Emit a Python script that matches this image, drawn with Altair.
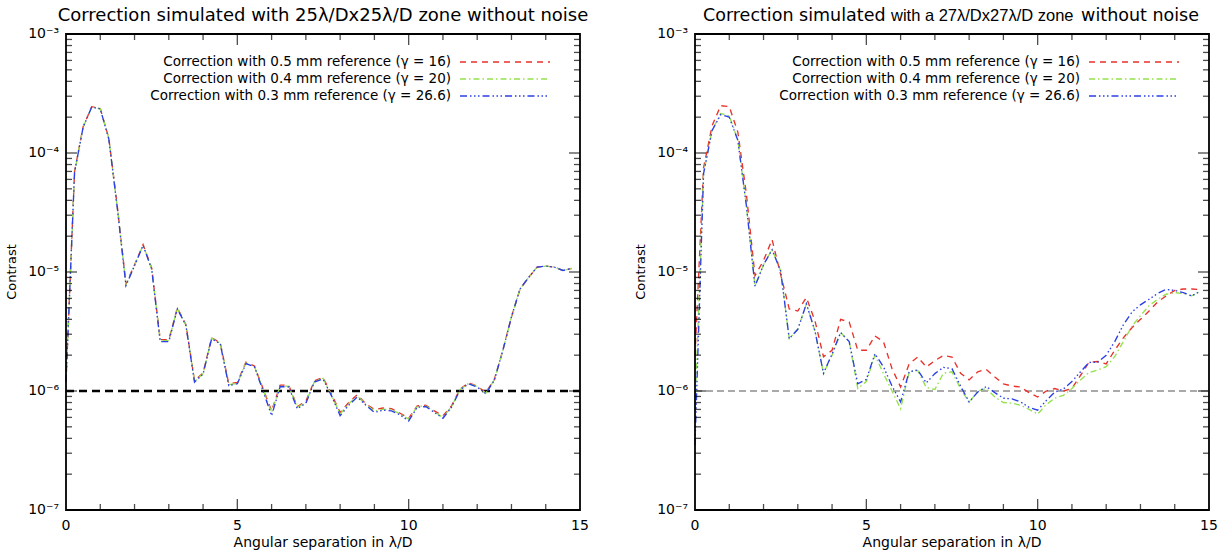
import altair as alt
import pandas as pd

# ---------------- data ----------------
x_sep = [i * 0.25 for i in range(60)]  # angular separation grid (lambda/D)

left_red = [1.2e-6, 7.0e-5, 1.66e-4, 2.45e-4, 2.36e-4, 1.33e-4, 3.5e-5, 7.9e-6, 1.15e-5, 1.7e-5,
            1.08e-5, 2.7e-6, 2.7e-6, 5.0e-6, 3.6e-6, 1.22e-6, 1.42e-6, 2.8e-6, 2.55e-6, 1.15e-6,
            1.18e-6, 1.75e-6, 1.62e-6, 1.05e-6, 6.8e-7, 1.12e-6, 1.12e-6, 7.4e-7, 8.2e-7, 1.22e-6,
            1.3e-6, 9.4e-7, 6.6e-7, 8.0e-7, 9.3e-7, 7.8e-7, 7.0e-7, 7.2e-7, 7.1e-7, 6.5e-7,
            5.9e-7, 7.5e-7, 7.6e-7, 6.8e-7, 6.2e-7, 7.5e-7, 1.04e-6, 1.17e-6, 1.1e-6, 9.7e-7,
            1.25e-6, 2.2e-6, 4.2e-6, 7.2e-6, 9.0e-6, 1.1e-5, 1.12e-5, 1.1e-5, 1.03e-5, 1.07e-5]
left_green = [1.2e-6, 6.9e-5, 1.65e-4, 2.44e-4, 2.35e-4, 1.32e-4, 3.45e-5, 7.8e-6, 1.14e-5, 1.68e-5,
              1.07e-5, 2.65e-6, 2.65e-6, 4.95e-6, 3.58e-6, 1.2e-6, 1.4e-6, 2.78e-6, 2.52e-6, 1.13e-6,
              1.16e-6, 1.72e-6, 1.61e-6, 1.03e-6, 6.6e-7, 1.1e-6, 1.1e-6, 7.3e-7, 8.0e-7, 1.2e-6,
              1.28e-6, 9.2e-7, 6.4e-7, 7.8e-7, 9.1e-7, 7.7e-7, 6.8e-7, 7.0e-7, 7.0e-7, 6.4e-7,
              5.8e-7, 7.4e-7, 7.5e-7, 6.7e-7, 6.0e-7, 7.4e-7, 1.03e-6, 1.16e-6, 1.09e-6, 9.6e-7,
              1.24e-6, 2.2e-6, 4.2e-6, 7.2e-6, 9.0e-6, 1.1e-5, 1.12e-5, 1.1e-5, 1.03e-5, 1.07e-5]
left_blue = [1.2e-6, 6.9e-5, 1.65e-4, 2.43e-4, 2.35e-4, 1.31e-4, 3.4e-5, 7.7e-6, 1.13e-5, 1.67e-5,
             1.06e-5, 2.6e-6, 2.6e-6, 4.9e-6, 3.55e-6, 1.19e-6, 1.39e-6, 2.75e-6, 2.5e-6, 1.11e-6,
             1.15e-6, 1.7e-6, 1.6e-6, 1.0e-6, 6.2e-7, 1.09e-6, 1.08e-6, 7.1e-7, 7.9e-7, 1.19e-6,
             1.26e-6, 9.1e-7, 6.2e-7, 7.6e-7, 8.9e-7, 7.6e-7, 6.6e-7, 6.9e-7, 6.8e-7, 6.3e-7,
             5.6e-7, 7.3e-7, 7.4e-7, 6.6e-7, 5.9e-7, 7.3e-7, 1.02e-6, 1.15e-6, 1.08e-6, 9.5e-7,
             1.23e-6, 2.2e-6, 4.2e-6, 7.2e-6, 9.0e-6, 1.1e-5, 1.12e-5, 1.1e-5, 1.03e-5, 1.07e-5]

right_red = [2.0e-6, 7.5e-5, 1.7e-4, 2.5e-4, 2.45e-4, 1.5e-4, 4.5e-5, 9.3e-6, 1.25e-5, 1.87e-5,
             9.5e-6, 4.9e-6, 4.7e-6, 6.1e-6, 3.9e-6, 1.94e-6, 2.2e-6, 4.0e-6, 3.8e-6, 2.2e-6,
             2.2e-6, 2.9e-6, 2.6e-6, 1.54e-6, 1.08e-6, 1.69e-6, 1.93e-6, 1.59e-6, 1.8e-6, 1.99e-6,
             1.93e-6, 1.41e-6, 1.24e-6, 1.45e-6, 1.52e-6, 1.31e-6, 1.15e-6, 1.1e-6, 1.08e-6, 9.7e-7,
             8.9e-7, 1.0e-6, 1.05e-6, 1.0e-6, 1.05e-6, 1.35e-6, 1.75e-6, 1.77e-6, 1.69e-6, 2.2e-6,
             2.8e-6, 3.4e-6, 4.0e-6, 4.7e-6, 5.6e-6, 6.3e-6, 7.0e-6, 7.2e-6, 7.2e-6, 7.1e-6]
right_green = [7.0e-7, 6.8e-5, 1.56e-4, 2.15e-4, 2.05e-4, 1.29e-4, 3.6e-5, 7.6e-6, 1.15e-5, 1.55e-5,
               1.02e-5, 2.75e-6, 3.3e-6, 5.4e-6, 3.2e-6, 1.4e-6, 2.0e-6, 3.1e-6, 2.6e-6, 1.05e-6,
               1.2e-6, 2.0e-6, 1.4e-6, 1.0e-6, 7.1e-7, 1.45e-6, 1.49e-6, 1.07e-6, 1.03e-6, 1.41e-6,
               1.45e-6, 1.05e-6, 8.0e-7, 1.0e-6, 1.05e-6, 8.9e-7, 8.0e-7, 7.9e-7, 7.6e-7, 7.0e-7,
               6.4e-7, 7.7e-7, 8.7e-7, 9.2e-7, 1.05e-6, 1.24e-6, 1.43e-6, 1.5e-6, 1.6e-6, 1.95e-6,
               2.6e-6, 3.5e-6, 4.3e-6, 5.2e-6, 5.9e-6, 6.5e-6, 6.7e-6, 6.6e-6, 6.3e-6, 6.9e-6]
right_blue = [3.5e-7, 6.7e-5, 1.55e-4, 2.1e-4, 2.0e-4, 1.28e-4, 3.6e-5, 7.6e-6, 1.15e-5, 1.54e-5,
              1.02e-5, 2.75e-6, 3.3e-6, 5.4e-6, 3.2e-6, 1.41e-6, 2.05e-6, 3.1e-6, 2.6e-6, 1.15e-6,
              1.25e-6, 2.05e-6, 1.6e-6, 1.1e-6, 8.1e-7, 1.45e-6, 1.5e-6, 1.17e-6, 1.4e-6, 1.58e-6,
              1.54e-6, 1.1e-6, 8.1e-7, 9.8e-7, 1.09e-6, 9.7e-7, 8.7e-7, 8.6e-7, 8.1e-7, 7.3e-7,
              6.9e-7, 8.3e-7, 9.8e-7, 1.04e-6, 1.2e-6, 1.45e-6, 1.74e-6, 1.74e-6, 2.0e-6, 2.6e-6,
              3.6e-6, 4.6e-6, 5.3e-6, 5.9e-6, 6.6e-6, 7.15e-6, 7.0e-6, 6.7e-6, 6.3e-6, 6.9e-6]

legend_labels = ["Correction with 0.5 mm reference (\u03b3 = 16)",
                 "Correction with 0.4 mm reference (\u03b3 = 20)",
                 "Correction with 0.3 mm reference (\u03b3 = 26.6)"]
left_title = "Correction simulated with 25\u03bb/Dx25\u03bb/D zone without noise"
right_title_parts = ["Correction simulated", "with a 27\u03bb/Dx27\u03bb/D zone", "without noise"]
x_title = "Angular separation in \u03bb/D"
y_title = "Contrast"
x_label_values = [0, 5, 10, 15]
x_major_ticks = [5, 10]
x_minor_ticks = [1, 2, 3, 4, 6, 7, 8, 9, 11, 12, 13, 14]
y_label_values = [1e-7, 1e-6, 1e-5, 1e-4, 1e-3]
y_tick_labels = ["10\u207b\u2077", "10\u207b\u2076", "10\u207b\u2075", "10\u207b\u2074", "10\u207b\u00b3"]
y_major_ticks = [1e-6, 1e-5, 1e-4]
y_minor_ticks = [k * 10.0 ** d for d in range(-7, -3) for k in range(2, 10)]
ref_level = 1e-6

# ---------------- layout / style ----------------
TOTAL_W, TOTAL_H = 1221, 554
TOP, BOTTOM = 34, 510
PANELS = [(66, 580), (695, 1209)]
FONT = "DejaVu Sans"
series_style = [
    ("#e8322b", [6, 5]),
    ("#93e14c", [6, 3, 1.5, 3]),
    ("#2b3fe6", [7, 3, 1.5, 2.5, 1.5, 2.5, 1.5, 3]),
]
y_scale = alt.Scale(type="log", domain=[1e-7, 1e-3], range=[BOTTOM, TOP], nice=False)


def yenc(field):
    return alt.Y(field, type="quantitative", scale=y_scale, axis=None)


def panel_layers(x0, x1, series, ref_width, ref_color, ref_dash):
    xsc = alt.Scale(domain=[0, 15], range=[x0, x1], nice=False, zero=False)

    def xenc(field):
        return alt.X(field, type="quantitative", scale=xsc, axis=None)

    layers = []
    ref = pd.DataFrame({"a": [0], "b": [15], "y": [ref_level]})
    layers.append(alt.Chart(ref).mark_rule(color=ref_color, strokeWidth=ref_width,
                                           strokeDash=ref_dash)
                  .encode(x=xenc("a"), x2="b:Q", y=yenc("y")))
    for vals, (color, dash) in zip(series, series_style):
        df = pd.DataFrame({"x": x_sep, "y": vals})
        layers.append(alt.Chart(df).mark_line(color=color, strokeDash=dash, strokeWidth=1.35)
                      .encode(x=xenc("x"), y=yenc("y")))
    frame = pd.DataFrame({"a": [0], "b": [15], "lo": [1e-7], "hi": [1e-3]})
    layers.append(alt.Chart(frame).mark_rect(stroke="black", strokeWidth=1.8, fillOpacity=0)
                  .encode(x=xenc("a"), x2="b:Q", y=yenc("lo"), y2="hi:Q"))
    # inward ticks
    for vals, ln in ((x_minor_ticks, 6), (x_major_ticks, 11)):
        df = pd.DataFrame({"x": vals})
        for ypos in (BOTTOM - ln / 2, TOP + ln / 2):
            layers.append(alt.Chart(df).mark_tick(color="black", thickness=1.3, size=ln)
                          .encode(x=xenc("x"), y=alt.value(ypos)))
    for vals, ln in ((y_minor_ticks, 6), (y_major_ticks, 11)):
        df = pd.DataFrame({"y": vals})
        for xpos in (x0 + ln / 2, x1 - ln / 2):
            layers.append(alt.Chart(df).mark_tick(color="black", thickness=1.3, size=ln)
                          .encode(y=yenc("y"), x=alt.value(xpos)))
    # tick labels
    xl = pd.DataFrame({"v": x_label_values, "t": [str(v) for v in x_label_values]})
    layers.append(alt.Chart(xl).mark_text(baseline="top", fontSize=14, font=FONT, color="black")
                  .encode(x=xenc("v"), y=alt.value(BOTTOM + 9), text="t:N"))
    yl = pd.DataFrame({"v": y_label_values, "t": y_tick_labels})
    layers.append(alt.Chart(yl).mark_text(align="right", baseline="middle", fontSize=14,
                                          font=FONT, color="black")
                  .encode(y=yenc("v"), x=alt.value(x0 - 7), text="t:N"))
    # axis titles
    layers.append(alt.Chart(pd.DataFrame({"t": [x_title]})).mark_text(
        baseline="middle", fontSize=14, font=FONT, color="black")
        .encode(text="t:N", x=alt.value((x0 + x1) / 2), y=alt.value(543)))
    layers.append(alt.Chart(pd.DataFrame({"t": [y_title]})).mark_text(
        baseline="middle", angle=270, fontSize=13, font=FONT, color="black")
        .encode(text="t:N", x=alt.value(x0 - 54), y=alt.value((TOP + BOTTOM) / 2)))
    # legend
    for i, (lbl, (color, dash)) in enumerate(zip(legend_labels, series_style)):
        ypix = 62 + 17 * i
        layers.append(alt.Chart(pd.DataFrame({"t": [lbl]})).mark_text(
            align="right", baseline="middle", fontSize=13.5, font=FONT, color="black")
            .encode(text="t:N", x=alt.value(x0 + 385), y=alt.value(ypix)))
        layers.append(alt.Chart(pd.DataFrame({"t": [lbl]})).mark_rule(
            color=color, strokeDash=dash, strokeWidth=1.4)
            .encode(x=alt.value(x0 + 394), x2=alt.value(x0 + 484), y=alt.value(ypix)))
    return layers


layers = []
layers += panel_layers(PANELS[0][0], PANELS[0][1], [left_red, left_green, left_blue],
                       2.5, "black", [8, 5])
layers += panel_layers(PANELS[1][0], PANELS[1][1], [right_red, right_green, right_blue],
                       1, "#555555", [7, 4])

# panel titles
layers.append(alt.Chart(pd.DataFrame({"t": [left_title]})).mark_text(
    baseline="alphabetic", fontSize=18, font=FONT, color="black")
    .encode(text="t:N", x=alt.value(sum(PANELS[0]) / 2), y=alt.value(21)))
layers.append(alt.Chart(pd.DataFrame({"t": [right_title_parts[0]]})).mark_text(
    align="left", baseline="alphabetic", fontSize=17.5, font=FONT, color="black")
    .encode(text="t:N", x=alt.value(703), y=alt.value(21)))
layers.append(alt.Chart(pd.DataFrame({"t": [right_title_parts[1]]})).mark_text(
    align="left", baseline="alphabetic", fontSize=16.5, font="Liberation Sans", color="black")
    .encode(text="t:N", x=alt.value(891), y=alt.value(21)))
layers.append(alt.Chart(pd.DataFrame({"t": [right_title_parts[2]]})).mark_text(
    align="right", baseline="alphabetic", fontSize=17.5, font=FONT, color="black")
    .encode(text="t:N", x=alt.value(1199), y=alt.value(21)))

chart = alt.layer(*layers).resolve_scale(x="independent").properties(
    width=TOTAL_W, height=TOTAL_H,
    autosize=alt.AutoSizeParams(type="none"),
    padding=0,
    background="white",
).configure_view(strokeWidth=0)

chart.save("out.html", embed_options={"renderer": "svg", "actions": False})
